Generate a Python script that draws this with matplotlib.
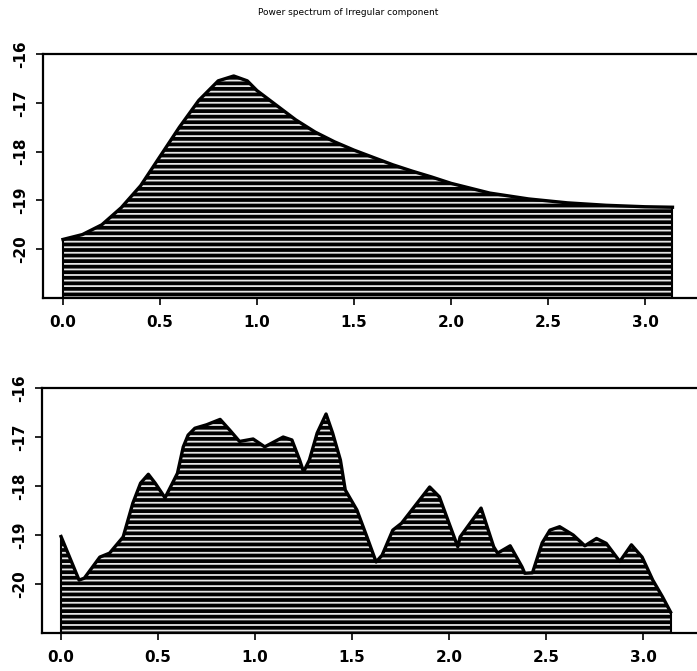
import numpy as np
import matplotlib
matplotlib.use("Agg")
import matplotlib.pyplot as plt

# top panel: smooth power spectrum
freq_top = [0.0, 0.1, 0.2, 0.3, 0.4, 0.5, 0.6, 0.7, 0.8, 0.88, 0.95, 1.0, 1.1, 1.2,
            1.3, 1.4, 1.5, 1.6, 1.7, 1.8, 1.9, 2.0, 2.2, 2.4, 2.6, 2.8, 3.0, 3.1416]
power_top = [-19.80, -19.70, -19.50, -19.15, -18.70, -18.10, -17.50, -16.95, -16.55,
             -16.45, -16.55, -16.75, -17.05, -17.35, -17.60, -17.80, -17.97, -18.12,
             -18.27, -18.40, -18.52, -18.65, -18.85, -18.97, -19.05, -19.10, -19.13, -19.14]

# bottom panel: raw (irregular) spectrum
freq_bot = [0.0, 0.093, 0.12, 0.20, 0.25, 0.32, 0.37, 0.41, 0.45, 0.485, 0.536, 0.60,
            0.63, 0.655, 0.69, 0.75, 0.82, 0.87, 0.92, 0.99, 1.05, 1.145, 1.19, 1.23,
            1.25, 1.28, 1.32, 1.366, 1.40, 1.44, 1.465, 1.525, 1.577, 1.624, 1.655,
            1.71, 1.755, 1.90, 1.95, 2.00, 2.045, 2.057, 2.165, 2.23, 2.25, 2.315,
            2.376, 2.39, 2.43, 2.48, 2.52, 2.57, 2.64, 2.70, 2.76, 2.81, 2.88, 2.94,
            2.995, 3.05, 3.10, 3.1416]
power_bot = [-19.03, -19.92, -19.88, -19.45, -19.37, -19.04, -18.35, -17.94, -17.76,
             -17.94, -18.24, -17.74, -17.20, -16.96, -16.82, -16.75, -16.64, -16.86,
             -17.09, -17.04, -17.20, -17.00, -17.06, -17.47, -17.71, -17.47, -16.92,
             -16.53, -16.92, -17.47, -18.08, -18.49, -19.04, -19.55, -19.41, -18.90,
             -18.76, -18.02, -18.22, -18.76, -19.24, -19.04, -18.45, -19.24, -19.37,
             -19.22, -19.65, -19.78, -19.77, -19.16, -18.90, -18.83, -19.00, -19.22,
             -19.07, -19.17, -19.54, -19.20, -19.45, -19.92, -20.26, -20.57]

xticks = [0.0, 0.5, 1.0, 1.5, 2.0, 2.5, 3.0]
xtick_labels = ["0.0", "0.5", "1.0", "1.5", "2.0", "2.5", "3.0"]
yticks = [-20, -19, -18, -17, -16]

plt.rcParams["hatch.linewidth"] = 1.3

fig = plt.figure(figsize=(6.97, 6.71), dpi=100)

ax_top = fig.add_axes([0.0617, 0.5559, 0.9383, 0.3636])
ax_bot = fig.add_axes([0.0603, 0.0566, 0.9397, 0.3651])


def draw_panel(ax, x, y, xlim):
    ymin = -21
    # halftone-like fill: black with white horizontal streaks
    ax.fill_between(x, ymin, y, facecolor="black", edgecolor="none", lw=0)
    ax.fill_between(x, ymin, y, facecolor="none", edgecolor="#e6e6e6",
                    hatch="---", lw=0)
    ax.plot(x, y, color="black", lw=2.4)
    ax.vlines([x[0], x[-1]], ymin, [y[0], y[-1]], color="black", lw=1.5)
    ax.set_xlim(*xlim)
    ax.set_ylim(ymin, -16)
    ax.spines["right"].set_visible(False)
    for s in ["left", "top", "bottom"]:
        ax.spines[s].set_linewidth(1.6)
    ax.set_xticks(xticks)
    ax.set_xticklabels(xtick_labels, fontsize=11, fontweight="bold")
    ax.set_yticks(yticks)
    ax.set_yticklabels([str(v) for v in yticks], fontsize=11, fontweight="bold",
                       rotation=90, va="center")
    ax.tick_params(axis="both", direction="out", length=5, width=1.2)
    ax.tick_params(axis="x", pad=7)
    ax.tick_params(axis="y", pad=6)


draw_panel(ax_top, freq_top, power_top, (-0.103, 3.268))
draw_panel(ax_bot, freq_bot, power_bot, (-0.098, 3.278))

fig.text(0.5, 0.982, "Power spectrum of Irregular component", ha="center",
         va="center", fontsize=6.5)

fig.savefig("out.png", dpi=100)
